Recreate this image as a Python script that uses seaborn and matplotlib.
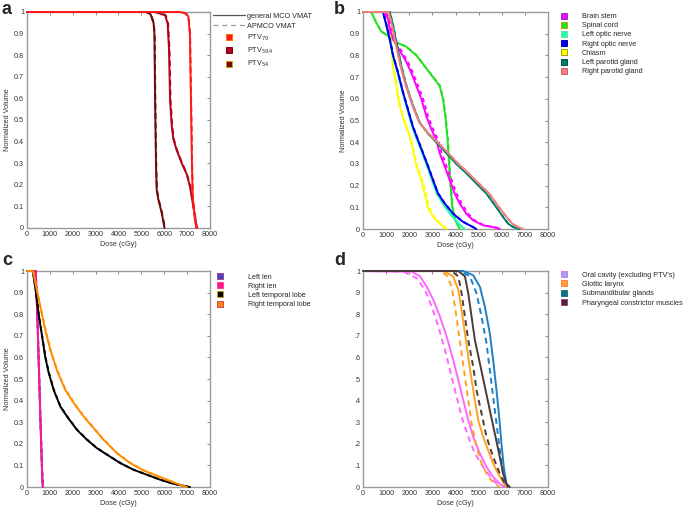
import numpy as np
import pandas as pd
import matplotlib
matplotlib.use("Agg")
import matplotlib.pyplot as plt
from matplotlib.lines import Line2D
import seaborn as sns

# ---------------- DATA ----------------
# Panel a: PTVs
PTV70_MCO_D = [0, 6700, 6900, 7050, 7120, 7150, 7180, 7210, 7240, 7300, 7350, 7420]
PTV70_MCO_V = [1, 1, 0.995, 0.98, 0.90, 0.70, 0.50, 0.30, 0.15, 0.08, 0.03, 0]
PTV70_AP_D = [0, 6700, 6910, 7060, 7130, 7160, 7190, 7220, 7250, 7310, 7360, 7430]
PTV70_AP_V = [1, 1, 0.995, 0.98, 0.90, 0.70, 0.50, 0.30, 0.15, 0.08, 0.03, 0]

PTV594_MCO_D = [0, 5600, 5900, 6040, 6150, 6210, 6255, 6330, 6400, 6545, 6765, 6980, 7130, 7245, 7345, 7420]
PTV594_MCO_V = [1, 1, 0.99, 0.985, 0.946, 0.82, 0.59, 0.47, 0.41, 0.36, 0.30, 0.25, 0.19, 0.115, 0.054, 0]
PTV594_AP_D = [0, 5600, 5910, 6060, 6170, 6230, 6275, 6350, 6420, 6560, 6780, 6990, 7140, 7250, 7350, 7420]
PTV594_AP_V = [1, 1, 0.99, 0.985, 0.946, 0.82, 0.59, 0.47, 0.41, 0.36, 0.30, 0.25, 0.19, 0.115, 0.054, 0]

PTV54_MCO_D = [0, 5200, 5400, 5530, 5570, 5600, 5640, 5670, 5745, 5890, 5960, 6010]
PTV54_MCO_V = [1, 1, 0.99, 0.95, 0.90, 0.59, 0.285, 0.177, 0.13, 0.07, 0.03, 0]
PTV54_AP_D = [0, 5200, 5410, 5540, 5580, 5610, 5650, 5680, 5760, 5900, 5975, 6030]
PTV54_AP_V = [1, 1, 0.99, 0.95, 0.90, 0.59, 0.285, 0.177, 0.13, 0.07, 0.03, 0]

# Panel b: OARs
BRAINSTEM_MCO_D = [0, 900, 1080, 1153, 1369, 1657, 1873, 2090, 2306, 2522, 2738, 2954, 3170, 3314, 3530, 3747, 3963, 4179, 4467, 4756, 5188, 5765, 5910]
BRAINSTEM_MCO_V = [1, 1, 0.97, 0.92, 0.86, 0.81, 0.77, 0.72, 0.66, 0.60, 0.52, 0.46, 0.41, 0.35, 0.29, 0.226, 0.164, 0.118, 0.071, 0.04, 0.017, 0.006, 0]
BRAINSTEM_AP_D = [0, 950, 1140, 1210, 1430, 1720, 1940, 2160, 2380, 2600, 2810, 3030, 3250, 3400, 3610, 3830, 4040, 4260, 4540, 4820, 5230, 5780, 5920]
BRAINSTEM_AP_V = [1, 1, 0.97, 0.92, 0.86, 0.81, 0.77, 0.72, 0.66, 0.60, 0.52, 0.46, 0.41, 0.35, 0.29, 0.226, 0.164, 0.118, 0.071, 0.04, 0.017, 0.006, 0]

SPINAL_MCO_D = [0, 360, 577, 793, 1081, 1441, 1873, 2306, 2738, 3098, 3314, 3458, 3560, 3660, 3730, 3790, 3860, 3990, 4180]
SPINAL_MCO_V = [1, 1, 0.95, 0.91, 0.89, 0.86, 0.84, 0.80, 0.74, 0.69, 0.66, 0.60, 0.52, 0.41, 0.29, 0.195, 0.10, 0.04, 0]
SPINAL_AP_D = [0, 360, 580, 800, 1090, 1450, 1890, 2320, 2750, 3110, 3330, 3470, 3575, 3675, 3745, 3805, 3880, 4010, 4200]
SPINAL_AP_V = [1, 1, 0.95, 0.91, 0.89, 0.86, 0.84, 0.80, 0.74, 0.69, 0.66, 0.60, 0.52, 0.41, 0.29, 0.195, 0.10, 0.04, 0]

LOPTIC_MCO_D = [0, 880, 1000, 1150, 1290, 1500, 1710, 1920, 2130, 2340, 2560, 2770, 2980, 3190, 3450, 3750, 4050, 4250, 4400]
LOPTIC_MCO_V = [1, 1, 0.94, 0.876, 0.80, 0.72, 0.63, 0.55, 0.47, 0.41, 0.35, 0.29, 0.226, 0.164, 0.118, 0.071, 0.035, 0.012, 0]
LOPTIC_AP_D = [0, 890, 1010, 1160, 1300, 1510, 1720, 1930, 2140, 2350, 2570, 2780, 2990, 3200, 3460, 3760, 4060, 4260, 4420]
LOPTIC_AP_V = [1, 1, 0.94, 0.876, 0.80, 0.72, 0.63, 0.55, 0.47, 0.41, 0.35, 0.29, 0.226, 0.164, 0.118, 0.071, 0.035, 0.012, 0]

ROPTIC_MCO_D = [0, 865, 1009, 1153, 1297, 1513, 1729, 1945, 2162, 2378, 2594, 2810, 3026, 3242, 3530, 3891, 4323, 4756, 4900]
ROPTIC_MCO_V = [1, 1, 0.94, 0.876, 0.80, 0.72, 0.63, 0.55, 0.47, 0.41, 0.35, 0.29, 0.226, 0.164, 0.118, 0.071, 0.033, 0.009, 0]
ROPTIC_AP_D = [0, 870, 1015, 1160, 1305, 1520, 1735, 1950, 2170, 2385, 2600, 2815, 3035, 3250, 3540, 3900, 4330, 4760, 4900]
ROPTIC_AP_V = [1, 1, 0.94, 0.876, 0.80, 0.72, 0.63, 0.55, 0.47, 0.41, 0.35, 0.29, 0.226, 0.164, 0.118, 0.071, 0.033, 0.009, 0]

CHIASM_MCO_D = [0, 1050, 1153, 1225, 1297, 1441, 1585, 1801, 2018, 2162, 2306, 2522, 2666, 2810, 3026, 3314, 3602]
CHIASM_MCO_V = [1, 1, 0.92, 0.845, 0.75, 0.66, 0.567, 0.49, 0.427, 0.365, 0.29, 0.226, 0.164, 0.10, 0.056, 0.025, 0]
CHIASM_AP_D = [0, 1060, 1160, 1235, 1310, 1455, 1600, 1820, 2035, 2185, 2340, 2560, 2720, 2860, 3070, 3350, 3650]
CHIASM_AP_V = [1, 1, 0.92, 0.845, 0.75, 0.66, 0.567, 0.49, 0.427, 0.365, 0.29, 0.226, 0.164, 0.10, 0.056, 0.025, 0]

LPAROTID_MCO_D = [0, 1153, 1297, 1441, 1657, 1873, 2162, 2450, 2810, 3170, 3602, 4035, 4467, 4900, 5332, 5765, 6053, 6269, 6485, 6773]
LPAROTID_MCO_V = [1, 1, 0.94, 0.86, 0.75, 0.66, 0.567, 0.49, 0.44, 0.40, 0.35, 0.30, 0.257, 0.21, 0.164, 0.10, 0.056, 0.025, 0.009, 0]
LPAROTID_AP_D = [0, 1160, 1305, 1450, 1665, 1880, 2170, 2460, 2820, 3180, 3612, 4045, 4477, 4910, 5342, 5775, 6063, 6279, 6495, 6780]
LPAROTID_AP_V = [1, 1, 0.94, 0.86, 0.75, 0.66, 0.567, 0.49, 0.44, 0.40, 0.35, 0.30, 0.257, 0.21, 0.164, 0.10, 0.056, 0.025, 0.009, 0]

RPAROTID_MCO_D = [0, 1100, 1250, 1400, 1620, 1850, 2140, 2440, 2830, 3220, 3680, 4120, 4560, 5000, 5450, 5880, 6200, 6450, 6700, 6920]
RPAROTID_MCO_V = [1, 1, 0.94, 0.86, 0.75, 0.66, 0.567, 0.49, 0.44, 0.40, 0.35, 0.30, 0.257, 0.21, 0.164, 0.10, 0.056, 0.025, 0.009, 0]
RPAROTID_AP_D = [0, 1110, 1260, 1410, 1630, 1860, 2150, 2450, 2840, 3230, 3690, 4130, 4570, 5010, 5460, 5890, 6210, 6460, 6710, 6930]
RPAROTID_AP_V = [1, 1, 0.94, 0.86, 0.75, 0.66, 0.567, 0.49, 0.44, 0.40, 0.35, 0.30, 0.257, 0.21, 0.164, 0.10, 0.056, 0.025, 0.009, 0]

# Panel c
LLEN_MCO_D = [0, 380, 450, 520, 590, 650, 690]
LLEN_MCO_V = [1, 1, 0.8, 0.55, 0.3, 0.1, 0]
LLEN_AP_D = [0, 380, 450, 520, 590, 650, 690]
LLEN_AP_V = [1, 1, 0.8, 0.55, 0.3, 0.1, 0]
RLEN_MCO_D = [0, 380, 450, 520, 590, 650, 690]
RLEN_MCO_V = [1, 1, 0.8, 0.55, 0.3, 0.1, 0]
RLEN_AP_D = [0, 385, 455, 525, 595, 655, 695]
RLEN_AP_V = [1, 1, 0.8, 0.55, 0.3, 0.1, 0]

LTEMP_MCO_D = [0, 250, 380, 509, 655, 800, 945, 1164, 1455, 1745, 2182, 2618, 3055, 3491, 4073, 4655, 5236, 5818, 6400, 7127]
LTEMP_MCO_V = [1, 1, 0.91, 0.80, 0.70, 0.60, 0.53, 0.45, 0.373, 0.327, 0.265, 0.219, 0.18, 0.15, 0.111, 0.08, 0.057, 0.034, 0.015, 0]
LTEMP_AP_D = [0, 255, 385, 515, 660, 810, 955, 1175, 1465, 1755, 2190, 2630, 3065, 3500, 4080, 4660, 5240, 5820, 6400, 7120]
LTEMP_AP_V = [1, 1, 0.91, 0.80, 0.70, 0.60, 0.53, 0.45, 0.373, 0.327, 0.265, 0.219, 0.18, 0.15, 0.111, 0.08, 0.057, 0.034, 0.015, 0]

RTEMP_MCO_D = [0, 260, 436, 582, 800, 1018, 1309, 1673, 2036, 2473, 2909, 3345, 3927, 4509, 5091, 5818, 6400, 6982]
RTEMP_MCO_V = [1, 1, 0.91, 0.835, 0.727, 0.635, 0.54, 0.45, 0.39, 0.327, 0.273, 0.219, 0.157, 0.111, 0.077, 0.046, 0.022, 0]
RTEMP_AP_D = [0, 265, 440, 590, 810, 1030, 1320, 1685, 2050, 2485, 2920, 3355, 3935, 4515, 5095, 5820, 6400, 6990]
RTEMP_AP_V = [1, 1, 0.91, 0.835, 0.727, 0.635, 0.54, 0.45, 0.39, 0.327, 0.273, 0.219, 0.157, 0.111, 0.077, 0.046, 0.022, 0]

# Panel d
ORAL_MCO_D = [0, 2110, 2470, 2757, 3044, 3331, 3619, 3906, 4121, 4336, 4552, 4767, 5055, 5342, 5629, 5916, 6132]
ORAL_MCO_V = [1, 0.997, 0.975, 0.927, 0.866, 0.788, 0.696, 0.587, 0.495, 0.402, 0.309, 0.232, 0.155, 0.093, 0.046, 0.015, 0]
ORAL_AP_D = [0, 1752, 2326, 2685, 2973, 3260, 3547, 3834, 4050, 4265, 4552, 4839, 5198, 5557, 5916]
ORAL_AP_V = [1, 0.997, 0.966, 0.912, 0.835, 0.742, 0.634, 0.51, 0.417, 0.325, 0.232, 0.155, 0.093, 0.039, 0]

GLOTTIC_MCO_D = [0, 3475, 3906, 4121, 4265, 4409, 4552, 4696, 4839, 4983, 5198, 5414, 5629, 5844, 6060, 6203]
GLOTTIC_MCO_V = [1, 1, 0.975, 0.912, 0.819, 0.711, 0.603, 0.495, 0.402, 0.309, 0.232, 0.17, 0.108, 0.062, 0.023, 0]
GLOTTIC_AP_D = [0, 3331, 3619, 3834, 3978, 4121, 4265, 4409, 4552, 4696, 4911, 5127, 5414, 5701, 5916]
GLOTTIC_AP_V = [1, 1, 0.98, 0.927, 0.835, 0.726, 0.618, 0.51, 0.402, 0.294, 0.185, 0.108, 0.046, 0.015, 0]

SUBMAND_MCO_D = [0, 4337, 4767, 5055, 5270, 5485, 5629, 5773, 5888, 5988, 6088, 6203, 6275]
SUBMAND_MCO_V = [1, 1, 0.98, 0.927, 0.835, 0.711, 0.587, 0.448, 0.325, 0.20, 0.093, 0.015, 0]
SUBMAND_AP_D = [0, 4193, 4624, 4911, 5127, 5342, 5485, 5629, 5773, 5916, 6060, 6203]
SUBMAND_AP_V = [1, 1, 0.975, 0.896, 0.788, 0.665, 0.541, 0.417, 0.294, 0.17, 0.062, 0]

PHARYNX_MCO_D = [0, 4121, 4409, 4552, 4696, 4839, 5055, 5270, 5485, 5701, 5916, 6060, 6203, 6347]
PHARYNX_MCO_V = [1, 1, 0.975, 0.896, 0.788, 0.68, 0.572, 0.464, 0.355, 0.247, 0.139, 0.062, 0.015, 0]
PHARYNX_AP_D = [0, 3834, 4121, 4265, 4409, 4552, 4767, 4911, 5127, 5342, 5629, 5916, 6132, 6275]
PHARYNX_AP_V = [1, 1, 0.975, 0.896, 0.788, 0.68, 0.556, 0.448, 0.34, 0.232, 0.139, 0.062, 0.015, 0]

X_TICKS = [0, 1000, 2000, 3000, 4000, 5000, 6000, 7000, 8000]
Y_TICKS = [0, 0.1, 0.2, 0.3, 0.4, 0.5, 0.6, 0.7, 0.8, 0.9, 1]
Y_LABELS = ["0", "0.1", "0.2", "0.3", "0.4", "0.5", "0.6", "0.7", "0.8", "0.9", "1"]
Y_LABELS_D = ["0", ".1", ".2", ".3", ".4", ".5", ".6", ".7", ".8", ".9", "1"]

PLANS = ["general MCO VMAT", "APMCO VMAT"]

# ---------------- styling ----------------
sns.set_theme(style="white")
plt.rcParams["font.family"] = ["Liberation Sans", "DejaVu Sans"]
FS = 5.2
GREY = "#9a9a9a"
LW = 1.4

fig = plt.figure(figsize=(6.85, 5.12), dpi=100)
W, H = 685.0, 512.0


def add_ax(x0, y0, x1, y1):
    return fig.add_axes([x0 / W, 1 - y1 / H, (x1 - x0) / W, (y1 - y0) / H])


def build_df(series):
    rows = []
    for name, (d1, v1, d2, v2) in series.items():
        rows.append(pd.DataFrame({"dose": d1, "vol": v1, "structure": name, "plan": PLANS[0]}))
        rows.append(pd.DataFrame({"dose": d2, "vol": v2, "structure": name, "plan": PLANS[1]}))
    return pd.concat(rows, ignore_index=True)


def style_ax(ax, ylabels, ylabel=True, xlabel=True):
    ax.set_xlim(0, 8000)
    ax.set_ylim(0, 1)
    ax.set_xticks(X_TICKS)
    ax.set_xticklabels([str(t) for t in X_TICKS])
    ax.set_yticks(Y_TICKS)
    ax.set_yticklabels(ylabels)
    ax.tick_params(direction="in", length=2, width=0.6, color="#777777",
                   top=True, right=True, labelsize=FS, pad=2, labelcolor="#333333")
    for s in ax.spines.values():
        s.set_color(GREY)
        s.set_linewidth(1.0)
        s.set_zorder(1)
    ax.set_xlabel("Dose (cGy)" if xlabel else "", fontsize=FS, color="#333333", labelpad=2)
    ax.set_ylabel("Normalized Volume" if ylabel else "", fontsize=FS, color="#333333", labelpad=2)


def draw(ax, series, palette, dash_pat, lw=LW):
    df = build_df(series)
    for name in series:
        sub = df[df["structure"] == name]
        sns.lineplot(data=sub, x="dose", y="vol", style="plan", style_order=PLANS,
                     dashes={PLANS[0]: "", PLANS[1]: dash_pat}, color=palette[name],
                     estimator=None, sort=False, linewidth=lw, legend=False, ax=ax,
                     units="plan")
    for ln in ax.get_lines():
        ln.set_clip_on(False)
        ln.set_zorder(3)


def sq(c, ec):
    return Line2D([], [], marker="s", linestyle="none", markersize=3.8,
                  markerfacecolor=c, markeredgecolor=ec, markeredgewidth=0.7)


# ---------------- panel a ----------------
ax_a = add_ax(27, 12, 210, 228)
pal_a = {"PTV70": "#ff1a1a", "PTV59.4": "#b3001b", "PTV54": "#6e0a0a"}
ser_a = {
    "PTV54": (PTV54_MCO_D, PTV54_MCO_V, PTV54_AP_D, PTV54_AP_V),
    "PTV59.4": (PTV594_MCO_D, PTV594_MCO_V, PTV594_AP_D, PTV594_AP_V),
    "PTV70": (PTV70_MCO_D, PTV70_MCO_V, PTV70_AP_D, PTV70_AP_V),
}
draw(ax_a, ser_a, pal_a, (3, 2))
style_ax(ax_a, Y_LABELS)
h_a = [Line2D([], [], color="#555555", lw=0.9),
       Line2D([], [], color="#999999", lw=0.9, ls=(0, (4, 3))),
       sq("#ff1a1a", "#ff6a00"), sq("#b3001b", "#7a0010"), sq("#6e0a0a", "#c8a000")]
l_a = ["general MCO VMAT", "APMCO VMAT", r"PTV$_{70}$", r"PTV$_{59.4}$", r"PTV$_{54}$"]
fig.legend(h_a, l_a, loc="upper left", bbox_to_anchor=(213 / W, 1 - 12.5 / H),
           frameon=False, fontsize=FS, handlelength=4.4, handletextpad=0.25,
           labelspacing=0.42, borderpad=0, borderaxespad=0)

# ---------------- panel b ----------------
ax_b = add_ax(363, 12, 548, 229)
pal_b = {"Brain stem": "#ff00ff", "Spinal cord": "#22e022", "Left optic nerve": "#22ffaa",
         "Right optic nerve": "#0000ee", "Chiasm": "#ffff00",
         "Left parotid gland": "#00806a", "Right parotid gland": "#f08080"}
ser_b = {
    "Spinal cord": (SPINAL_MCO_D, SPINAL_MCO_V, SPINAL_AP_D, SPINAL_AP_V),
    "Chiasm": (CHIASM_MCO_D, CHIASM_MCO_V, CHIASM_AP_D, CHIASM_AP_V),
    "Left optic nerve": (LOPTIC_MCO_D, LOPTIC_MCO_V, LOPTIC_AP_D, LOPTIC_AP_V),
    "Right optic nerve": (ROPTIC_MCO_D, ROPTIC_MCO_V, ROPTIC_AP_D, ROPTIC_AP_V),
    "Brain stem": (BRAINSTEM_MCO_D, BRAINSTEM_MCO_V, BRAINSTEM_AP_D, BRAINSTEM_AP_V),
    "Left parotid gland": (LPAROTID_MCO_D, LPAROTID_MCO_V, LPAROTID_AP_D, LPAROTID_AP_V),
    "Right parotid gland": (RPAROTID_MCO_D, RPAROTID_MCO_V, RPAROTID_AP_D, RPAROTID_AP_V),
}
draw(ax_b, ser_b, pal_b, (2, 2))
style_ax(ax_b, Y_LABELS)
order_b = ["Brain stem", "Spinal cord", "Left optic nerve", "Right optic nerve", "Chiasm",
           "Left parotid gland", "Right parotid gland"]
edge_b = {"Brain stem": "#8040c0", "Spinal cord": "#c0a000", "Left optic nerve": "#66ddaa",
          "Right optic nerve": "#0000aa", "Chiasm": "#a0a000",
          "Left parotid gland": "#005040", "Right parotid gland": "#d06060"}
fig.legend([sq(pal_b[k], edge_b[k]) for k in order_b], order_b, loc="upper left",
           bbox_to_anchor=(557 / W, 1 - 13 / H), frameon=False, fontsize=FS,
           handlelength=2.0, handletextpad=1.4, labelspacing=0.30, borderpad=0, borderaxespad=0)

# ---------------- panel c ----------------
ax_c = add_ax(27, 271, 210, 487)
pal_c = {"Left len": "#3f48cc", "Right len": "#ff1493", "Left temporal lobe": "#000000",
         "Right temporal lobe": "#ff8c00"}
ser_c = {
    "Left len": (LLEN_MCO_D, LLEN_MCO_V, LLEN_AP_D, LLEN_AP_V),
    "Right len": (RLEN_MCO_D, RLEN_MCO_V, RLEN_AP_D, RLEN_AP_V),
    "Left temporal lobe": (LTEMP_MCO_D, LTEMP_MCO_V, LTEMP_AP_D, LTEMP_AP_V),
    "Right temporal lobe": (RTEMP_MCO_D, RTEMP_MCO_V, RTEMP_AP_D, RTEMP_AP_V),
}
draw(ax_c, ser_c, pal_c, (2, 2))
style_ax(ax_c, Y_LABELS)
order_c = ["Left len", "Right len", "Left temporal lobe", "Right temporal lobe"]
edge_c = {"Left len": "#b04080", "Right len": "#ff4080", "Left temporal lobe": "#c0a000",
          "Right temporal lobe": "#d04060"}
fig.legend([sq(pal_c[k], edge_c[k]) for k in order_c], order_c, loc="upper left",
           bbox_to_anchor=(213 / W, 1 - 273.5 / H), frameon=False, fontsize=FS,
           handlelength=2.0, handletextpad=2.8, labelspacing=0.30, borderpad=0, borderaxespad=0)

# ---------------- panel d ----------------
ax_d = add_ax(363, 271, 548, 487)
pal_d = {"Oral cavity (excluding PTV's)": "#ff66ff", "Glottic larynx": "#ffa020",
         "Submandibular glands": "#1f7fc4", "Pharyngeal constrictor muscles": "#4d3a3a"}
ser_d = {
    "Oral cavity (excluding PTV's)": (ORAL_MCO_D, ORAL_MCO_V, ORAL_AP_D, ORAL_AP_V),
    "Glottic larynx": (GLOTTIC_MCO_D, GLOTTIC_MCO_V, GLOTTIC_AP_D, GLOTTIC_AP_V),
    "Submandibular glands": (SUBMAND_MCO_D, SUBMAND_MCO_V, SUBMAND_AP_D, SUBMAND_AP_V),
    "Pharyngeal constrictor muscles": (PHARYNX_MCO_D, PHARYNX_MCO_V, PHARYNX_AP_D, PHARYNX_AP_V),
}
draw(ax_d, ser_d, pal_d, (3, 2.2))
style_ax(ax_d, Y_LABELS_D, ylabel=False)
order_d = ["Oral cavity (excluding PTV's)", "Glottic larynx", "Submandibular glands",
           "Pharyngeal constrictor muscles"]
legc_d = {"Oral cavity (excluding PTV's)": "#a0a0ff", "Glottic larynx": "#ffa030",
          "Submandibular glands": "#0a7090", "Pharyngeal constrictor muscles": "#552233"}
edge_d = {"Oral cavity (excluding PTV's)": "#d080d0", "Glottic larynx": "#ff8040",
          "Submandibular glands": "#208060", "Pharyngeal constrictor muscles": "#a04080"}
fig.legend([sq(legc_d[k], edge_d[k]) for k in order_d], order_d, loc="upper left",
           bbox_to_anchor=(557 / W, 1 - 271.5 / H), frameon=False, fontsize=FS,
           handlelength=2.0, handletextpad=1.4, labelspacing=0.32, borderpad=0, borderaxespad=0)

# panel letters
for lab, (px, py) in {"a": (2, 1), "b": (334, 1), "c": (2, 252), "d": (334, 252)}.items():
    fig.text(px / W, 1 - py / H, lab, fontsize=13, fontweight="bold", va="top", ha="left",
             family=["Liberation Sans", "DejaVu Sans"])

fig.savefig("out.png", dpi=100)
